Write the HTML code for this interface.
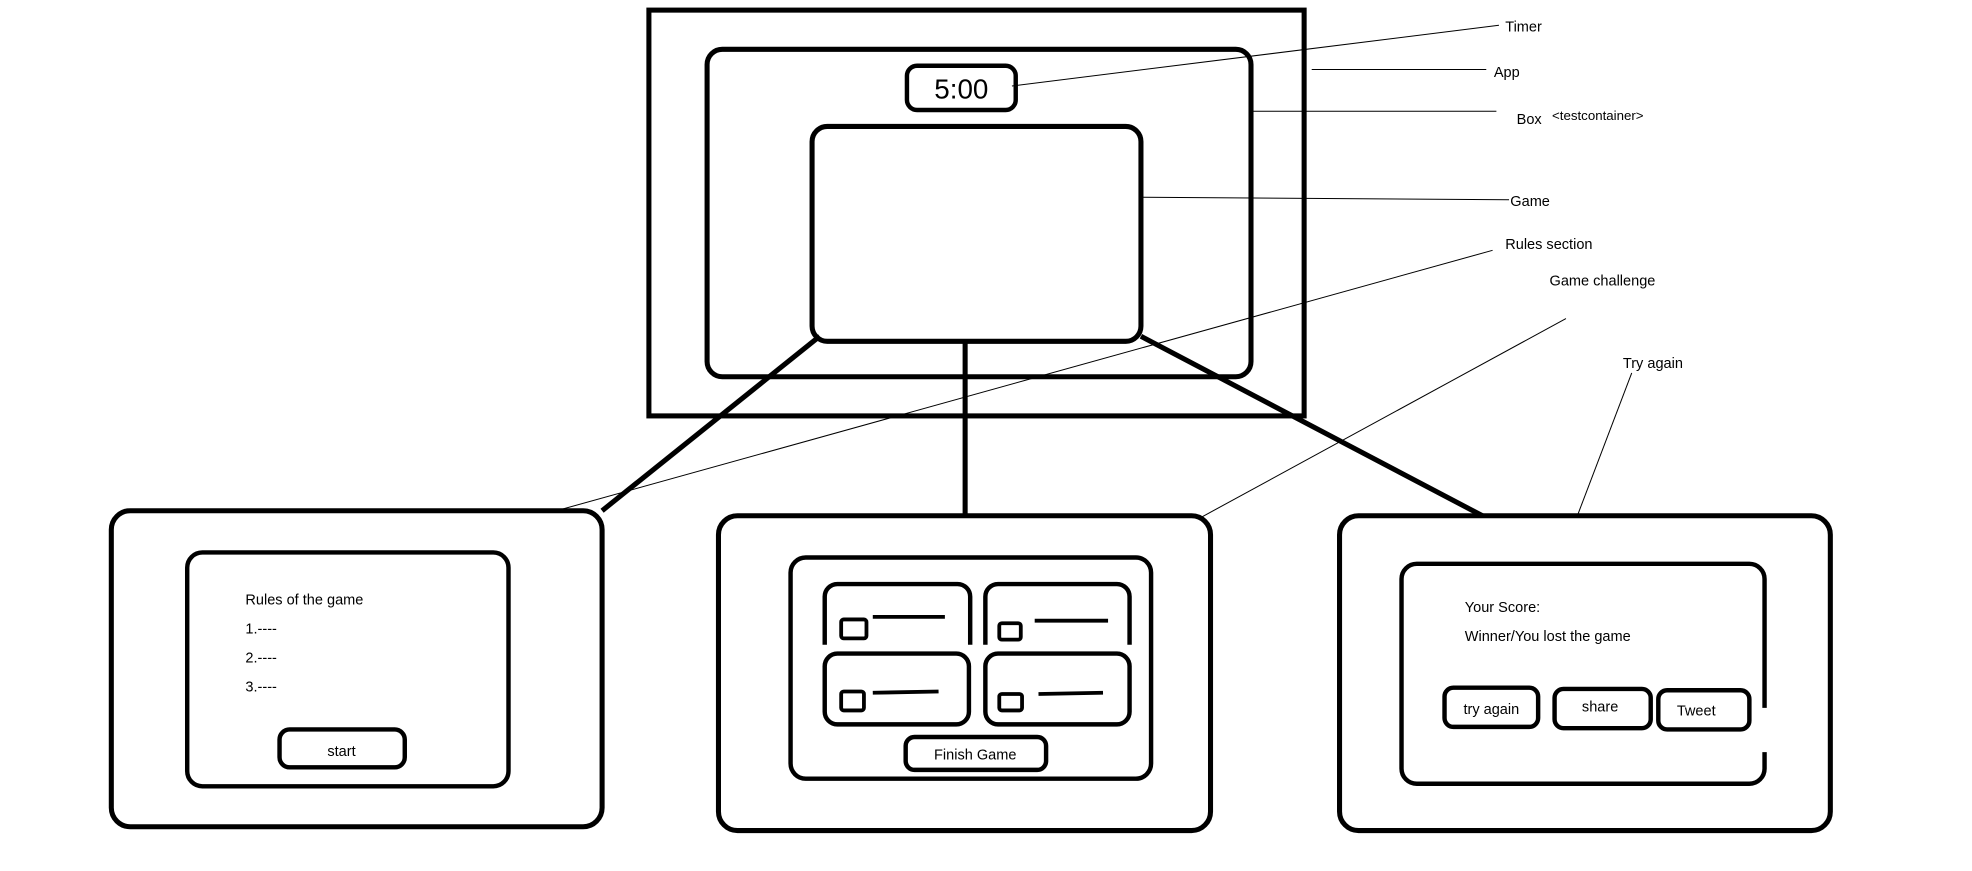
<!DOCTYPE html>
<html><head><meta charset="utf-8"><style>
html,body{margin:0;padding:0;background:#fff;}
svg{display:block}
text{font-family:"Liberation Sans",sans-serif;fill:#000;}
</style></head><body>
<svg width="1972" height="871" viewBox="0 0 1559 689" preserveAspectRatio="none" xmlns="http://www.w3.org/2000/svg">
<g fill="none" stroke="#000" stroke-width="4">
<rect x="513" y="8" width="518" height="321"/>
<rect x="559" y="39" width="430" height="259" rx="12"/>
<rect x="717" y="52" width="86" height="35" rx="8" stroke-width="3.5"/>
<rect x="642" y="100" width="260" height="170" rx="12"/>
<line x1="648" y1="266" x2="476" y2="404"/>
<line x1="763" y1="271" x2="763" y2="408"/>
<line x1="902" y1="266" x2="1172" y2="408"/>
<rect x="88" y="404" width="388" height="250" rx="15"/>
<rect x="148" y="437" width="254" height="185" rx="12" stroke-width="3.5"/>
<rect x="221" y="577" width="99" height="30" rx="8" stroke-width="3.5"/>
<rect x="568" y="408" width="389" height="249" rx="15"/>
<rect x="625" y="441" width="285" height="175" rx="12" stroke-width="3.5"/>
<path d="M652 510 V472 a10 10 0 0 1 10 -10 H757 a10 10 0 0 1 10 10 V510" stroke-width="3.5"/>
<path d="M779 510 V472 a10 10 0 0 1 10 -10 H883 a10 10 0 0 1 10 10 V510" stroke-width="3.5"/>
<rect x="652" y="517" width="114" height="56" rx="10" stroke-width="3.5"/>
<rect x="779" y="517" width="114" height="56" rx="10" stroke-width="3.5"/>
<rect x="665" y="490" width="20" height="15" rx="2" stroke-width="3"/>
<rect x="665" y="547" width="18" height="15" rx="2" stroke-width="3"/>
<rect x="790" y="493" width="17" height="13" rx="2" stroke-width="3"/>
<rect x="790" y="549" width="18" height="13" rx="2" stroke-width="3"/>
<line x1="690" y1="488" x2="747" y2="488" stroke-width="3"/>
<line x1="690" y1="548" x2="742" y2="547" stroke-width="3"/>
<line x1="818" y1="491" x2="876" y2="491" stroke-width="3"/>
<line x1="821" y1="549" x2="872" y2="548" stroke-width="3"/>
<rect x="716" y="583" width="111" height="26" rx="7" stroke-width="3.5"/>
<rect x="1059" y="408" width="388" height="249" rx="15"/>
<path d="M1395 560 V458 a12 12 0 0 0 -12 -12 H1120 a12 12 0 0 0 -12 12 V608 a12 12 0 0 0 12 12 H1383 a12 12 0 0 0 12 -12 V595" stroke-width="3.5"/>
<rect x="1142" y="544" width="74" height="31" rx="7" stroke-width="3.5"/>
<rect x="1229" y="545" width="76" height="31" rx="7" stroke-width="3.5"/>
<rect x="1311" y="546" width="72" height="31" rx="7" stroke-width="3.5"/>
</g>
<g stroke="#000" stroke-width="0.8" fill="none">
<line x1="800" y1="68" x2="1185" y2="20"/>
<line x1="1037" y1="55" x2="1175" y2="55"/>
<line x1="990" y1="88" x2="1183" y2="88"/>
<line x1="904" y1="156" x2="1193" y2="158"/>
<line x1="1180" y1="198" x2="440" y2="404"/>
<line x1="1238" y1="252" x2="950" y2="409"/>
<line x1="1290" y1="295" x2="1247" y2="408"/>
</g>
<g font-size="11.5">
<text x="1190" y="25">Timer</text>
<text x="1181" y="61">App</text>
<text x="1199" y="98">Box</text>
<text x="1227" y="95" font-size="10.5">&lt;testcontainer&gt;</text>
<text x="1194" y="163">Game</text>
<text x="1190" y="197">Rules section</text>
<text x="1225" y="226">Game challenge</text>
<text x="1283" y="291">Try again</text>
<text x="194" y="478">Rules of the game</text>
<text x="194" y="501">1.----</text>
<text x="194" y="524">2.----</text>
<text x="194" y="547">3.----</text>
<text x="270" y="598" text-anchor="middle">start</text>
<text x="771" y="601" text-anchor="middle">Finish Game</text>
<text x="1158" y="484">Your Score:</text>
<text x="1158" y="507">Winner/You lost the game</text>
<text x="1179" y="565" text-anchor="middle">try again</text>
<text x="1265" y="563" text-anchor="middle">share</text>
<text x="1341" y="566" text-anchor="middle">Tweet</text>
</g>
<text x="760" y="78" font-size="22" text-anchor="middle">5:00</text>
</svg>
</body></html>
